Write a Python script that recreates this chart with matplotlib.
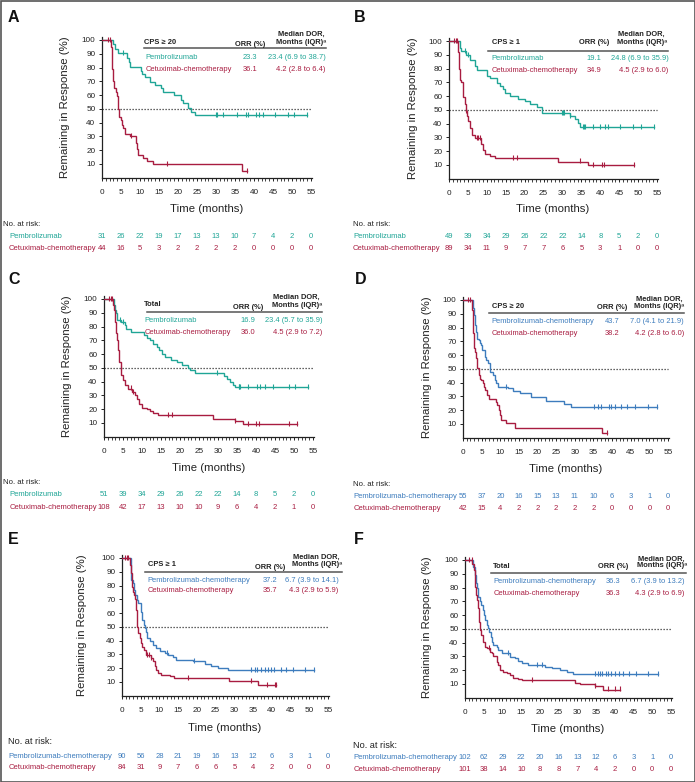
import numpy as np
import matplotlib
matplotlib.use("Agg")
import matplotlib.pyplot as plt
from matplotlib.transforms import blended_transform_factory
from matplotlib.patches import Rectangle
from matplotlib.lines import Line2D

plt.rcParams['font.family'] = ['Liberation Sans', 'DejaVu Sans']

# ---------------- data ----------------
# Panel A : CPS >= 20, pembrolizumab vs cetuximab-chemotherapy
a_pem_t = [0, 2.9, 3.3, 4.2, 6.7, 7.0, 7.4, 10.2, 10.6, 11.2, 12.5, 13.9, 15.6, 16.1, 18.9, 20.7, 21.3, 22.6, 23.3, 24.6]
a_pem_s = [100, 96.8, 93.5, 90.3, 87.1, 83.8, 80.5, 77.5, 75.5, 73.2, 69.7, 67.3, 64.9, 62.5, 60.1, 56.4, 54.0, 50.4, 48.1, 45.6]
a_pem_c = [5.6, 30.1, 30.3, 31.8, 35.4, 38.0, 38.3, 40.6, 41.3, 42.4, 45.4, 48.9, 50.5, 54.0]
a_cet_t = [0, 2.3, 2.5, 2.7, 2.9, 3.2, 3.8, 4.0, 4.2, 4.4, 5.0, 5.3, 5.5, 6.0, 7.3, 9.0, 9.3, 9.6, 10.8, 11.9, 13.4, 36.8]
a_cet_s = [100, 95, 88, 79, 70, 65, 62.5, 59, 50, 44, 42, 38, 36, 32, 30, 25, 21, 16.5, 14, 12.5, 10, 5]
a_cet_c = [1.6, 2.0, 7.5, 17.0, 38.2]

# Panel B : CPS >= 1
b_pem_t = [0, 2.9, 3.2, 4.4, 5.6, 6.9, 7.3, 10.0, 10.8, 12.6, 13.5, 14.4, 14.8, 16.1, 18.3, 20.1, 21.4, 23.2, 24.5, 32.0, 33.3, 34.2, 34.6]
b_pem_s = [100, 95, 92.5, 90, 86, 82, 79, 74.6, 73.4, 69.7, 67.3, 64.9, 62.5, 60, 58.1, 56.4, 54, 52, 48, 45.5, 43.1, 40.7, 37.5]
b_pem_c = [4.2, 5.1, 30.0, 30.2, 30.4, 32.0, 35.5, 35.8, 35.9, 38.1, 39.9, 41.2, 42.1, 45.2, 48.7, 50.7, 54.3]
b_cet_t = [0, 2.4, 2.6, 2.9, 3.3, 3.8, 4.1, 4.4, 4.7, 5.1, 5.6, 6.0, 6.9, 8.5, 9.1, 9.5, 10.8, 12.2, 28.9, 36.8]
b_cet_s = [100, 92, 80, 72, 70, 59, 54, 49, 45.5, 42, 37, 32, 29.5, 25, 21, 18, 16.5, 15.3, 12.5, 10]
b_cet_c = [1.4, 1.8, 2.0, 4.4, 7.3, 7.7, 8.2, 17.0, 17.9, 34.6, 38.1, 40.4, 41.1, 49.0]

# Panel C : Total
c_pem_t = [0, 2.6, 2.9, 3.2, 3.5, 4.6, 5.5, 5.8, 7.0, 10.4, 11.2, 12.1, 12.8, 13.9, 14.6, 15.2, 16.1, 17.5, 19.1, 20.4, 22.2, 22.6, 23.9, 31.6, 32.3, 33.2, 34.0, 34.5]
c_pem_s = [100, 95.6, 92, 90, 85, 83, 81, 78, 76, 73.8, 71.4, 70, 67.7, 65.3, 62.9, 60.4, 58, 55.6, 54.4, 52, 50, 48.3, 46.4, 44, 42.2, 39.8, 37.9, 36.2]
c_pem_c = [4.3, 5.1, 29.8, 35.4, 35.6, 35.8, 38.0, 40.2, 41.0, 42.4, 44.6, 48.6, 50.3, 53.8]
c_cet_t = [0, 2.4, 2.6, 2.9, 3.2, 3.5, 3.8, 4.0, 4.4, 4.6, 5.1, 5.5, 6.4, 7.3, 8.2, 8.6, 9.3, 9.9, 11.2, 12.1, 13.0, 14.3, 28.8, 34.5, 36.7]
c_cet_s = [100, 96, 92, 83.5, 75, 70, 63, 54.4, 49.5, 44.7, 41, 37.4, 35, 32.5, 30, 27.7, 24, 21.1, 20, 18.7, 17.2, 15.5, 13.1, 11.4, 9.5]
c_cet_c = [1.4, 1.8, 2.0, 4.4, 7.0, 7.7, 16.9, 17.8, 34.6, 38.0, 40.0, 40.9, 48.8, 50.7]

# Panel D : CPS >= 20, pembrolizumab-chemotherapy vs cetuximab-chemotherapy
d_pem_t = [0, 2.7, 3.0, 3.3, 3.6, 3.8, 4.2, 4.5, 4.7, 5.1, 5.8, 6.3, 6.7, 7.2, 8.0, 8.5, 8.9, 9.4, 12.1, 13.4, 15.2, 18.2, 22.4, 27.1, 29.1]
d_pem_s = [100, 94, 89, 82, 77, 72, 71, 68.5, 67, 63.7, 58.8, 56.4, 54, 48, 45.5, 42, 39.5, 37, 36, 34, 32.2, 29.8, 26.5, 24.5, 22.5]
d_pem_c = [11.6, 35.2, 36.2, 37.1, 39.1, 39.6, 40.7, 42.3, 44.1, 46.1, 49.5, 52.1]
d_cet_t = [0, 2.4, 2.7, 3.0, 3.3, 3.6, 3.8, 4.2, 4.5, 4.9, 5.4, 5.6, 6.0, 6.5, 6.9, 8.9, 9.2, 9.6, 9.8, 10.3, 11.6, 14.0, 37.3]
d_cet_s = [100, 92.7, 75.8, 65, 62.5, 58, 50.5, 45.5, 43, 42, 39.5, 37, 34.6, 31, 28, 26, 23.7, 20, 16.5, 12.8, 10.4, 7.3, 3.6]
d_cet_c = [1.3, 1.8, 38.7]

# Panel E : CPS >= 1
e_pem_t = [0, 2.3, 2.5, 2.9, 3.2, 3.6, 4.1, 4.4, 5.0, 5.3, 5.9, 6.2, 6.5, 6.8, 7.4, 8.3, 9.2, 10.1, 11.4, 12.3, 13.6, 14.5, 19.0, 22.1, 23.8, 25.6, 28.3]
e_pem_s = [100, 91, 84, 81.6, 77, 73, 69.6, 67, 61, 55, 51.4, 49, 46.6, 41.8, 39.4, 37, 34.5, 32.8, 30.9, 29.7, 28, 26, 24.9, 23.2, 21.7, 20, 18.4]
e_pem_c = [12.0, 19.2, 34.5, 35.4, 36.1, 37.0, 38.1, 39.0, 39.9, 40.7, 42.5, 43.9, 45.6, 48.8, 51.2]
e_cet_t = [0, 2.1, 2.3, 2.7, 2.9, 3.2, 3.6, 3.8, 4.0, 4.1, 4.4, 4.7, 5.2, 5.3, 5.9, 6.5, 7.8, 8.3, 8.7, 9.2, 9.6, 10.5, 12.7, 14.0, 28.7, 36.3]
e_cet_s = [100, 95, 89, 79, 75.6, 73, 70, 62, 55, 50, 45.4, 41.8, 38.2, 35.7, 33.3, 29.7, 27.3, 24.9, 21.3, 18.8, 16.4, 15.2, 14, 12.8, 10.4, 8]
e_cet_c = [0.9, 1.3, 1.6, 6.8, 7.1, 7.8, 17.6, 34.5, 38.8, 40.8, 41.2]

# Panel F : Total
f_pem_t = [0, 2.2, 2.7, 2.9, 3.3, 3.6, 4.0, 4.4, 4.9, 5.1, 5.3, 5.8, 6.2, 6.5, 6.9, 7.1, 7.6, 8.5, 8.9, 9.8, 12.0, 13.3, 14.2, 15.1, 16.9, 21.4, 23.1, 25.4, 27.1, 28.9]
f_pem_s = [100, 95, 89, 83, 79.4, 73.4, 70, 67, 63.7, 60, 56.4, 52.8, 50.4, 48, 44.3, 40.7, 38.3, 37, 34.6, 32.2, 29.8, 28.6, 26.9, 25, 23.7, 22.5, 21.3, 20, 18.9, 17.2]
f_pem_c = [11.6, 19.3, 20.5, 34.7, 35.6, 36.0, 36.7, 37.6, 38.3, 39.1, 40.0, 41.2, 42.3, 43.9, 45.6, 48.9, 51.6]
f_cet_t = [0, 2.0, 2.4, 2.7, 2.9, 3.3, 3.6, 3.8, 4.0, 4.4, 4.9, 5.3, 5.8, 6.7, 7.1, 7.6, 8.5, 8.9, 9.3, 10.2, 11.1, 12.0, 12.9, 14.2, 15.1, 29.4, 30.7, 34.7, 36.9]
f_cet_s = [100, 97, 92.7, 80.6, 74.6, 71, 64.9, 55.2, 49.2, 45.5, 40.7, 37, 35.8, 33.4, 32.2, 30.3, 26.2, 23.7, 20, 18.9, 17.7, 16.5, 14, 13.3, 12.8, 10.9, 10, 8.5, 6]
f_cet_c = [1.2, 1.8, 6.3, 17.8, 34.7, 38.3, 40.0, 41.5]

# Number at risk
risk_times = [0, 5, 10, 15, 20, 25, 30, 35, 40, 45, 50, 55]
a_pem_risk = [31, 26, 22, 19, 17, 13, 13, 10, 7, 4, 2, 0]
a_cet_risk = [44, 16, 5, 3, 2, 2, 2, 2, 0, 0, 0, 0]
b_pem_risk = [49, 39, 34, 29, 26, 22, 22, 14, 8, 5, 2, 0]
b_cet_risk = [89, 34, 11, 9, 7, 7, 6, 5, 3, 1, 0, 0]
c_pem_risk = [51, 39, 34, 29, 26, 22, 22, 14, 8, 5, 2, 0]
c_cet_risk = [108, 42, 17, 13, 10, 10, 9, 6, 4, 2, 1, 0]
d_pem_risk = [55, 37, 20, 16, 15, 13, 11, 10, 6, 3, 1, 0]
d_cet_risk = [42, 15, 4, 2, 2, 2, 2, 2, 0, 0, 0, 0]
e_pem_risk = [90, 56, 28, 21, 19, 16, 13, 12, 6, 3, 1, 0]
e_cet_risk = [84, 31, 9, 7, 6, 6, 5, 4, 2, 0, 0, 0]
f_pem_risk = [102, 62, 29, 22, 20, 16, 13, 12, 6, 3, 1, 0]
f_cet_risk = [101, 38, 14, 10, 8, 8, 7, 4, 2, 0, 0, 0]

# Inset tables
subgroups = ["CPS \u2265 20", "CPS \u2265 1", "Total", "CPS \u2265 20", "CPS \u2265 1", "Total"]
pem_names = ["Pembrolizumab"] * 3 + ["Pembrolizumab-chemotherapy"] * 3
cet_name = "Cetuximab-chemotherapy"
pem_orr = ["23.3", "19.1", "16.9", "43.7", "37.2", "36.3"]
cet_orr = ["36.1", "34.9", "36.0", "38.2", "35.7", "36.3"]
pem_dor = ["23.4 (6.9 to 38.7)", "24.8 (6.9 to 35.9)", "23.4 (5.7 to 35.9)",
           "7.0 (4.1 to 21.9)", "6.7 (3.9 to 14.1)", "6.7 (3.9 to 13.2)"]
cet_dor = ["4.2 (2.8 to 6.4)", "4.5 (2.9 to 6.0)", "4.5 (2.9 to 7.2)",
           "4.2 (2.8 to 6.0)", "4.3 (2.9 to 5.9)", "4.3 (2.9 to 6.9)"]
panel_letters = ["A", "B", "C", "D", "E", "F"]

# ---------------- styling / layout ----------------
TEAL = "#1fa596"
CRIM = "#a81c40"
BLUE = "#3d7cbd"
TXT = "#222222"

W, H = 695, 782
fig = plt.figure(figsize=(W / 100, H / 100), dpi=100)
fig.patch.set_facecolor("white")

def fx(x):
    return x / W

def fy(y):
    return 1 - y / H

layout = [
    dict(ax=(102, 311, 40, 164), letter=(8, 18), ylab_x=65, xlab_y=209.3,
         hdr=(144, 42.3), orr_x=250, orr_hdr_y=44.3, dor_x=301, dor_y=(34, 42.7),
         line=(144, 326, 48.3), rows=(57.3, 69.3), name_x=145.7, dor_right=325.7,
         risk_hdr=(3, 225), risk_lab_x=9, risk_rows=(236, 248.3), risk_fs=5.6),
    dict(ax=(449, 657, 41, 165), letter=(354, 18), ylab_x=413, xlab_y=209.3,
         hdr=(491.7, 42.3), orr_x=594, orr_hdr_y=42.7, dor_x=641.7, dor_y=(34, 42.3),
         line=(488, 667.7, 51), rows=(58.3, 70), name_x=491.7, dor_right=668.3,
         risk_hdr=(353, 225), risk_lab_x=353, risk_rows=(236, 248.3), risk_fs=5.6),
    dict(ax=(104, 313, 299, 423), letter=(8, 279), ylab_x=66.7, xlab_y=468.3,
         hdr=(144.3, 304.3), orr_x=248.3, orr_hdr_y=307.7, dor_x=296.7, dor_y=(297.7, 305.7),
         line=(146.7, 321.7, 312.3), rows=(321, 332.7), name_x=144.3, dor_right=322.7,
         risk_hdr=(3, 482.7), risk_lab_x=9.3, risk_rows=(495, 507.3), risk_fs=5.6),
    dict(ax=(463, 668, 300, 424), letter=(355, 280), ylab_x=426.7, xlab_y=469,
         hdr=(491.7, 306.7), orr_x=611.7, orr_hdr_y=307.7, dor_x=659, dor_y=(299, 306.7),
         line=(489, 684, 313.3), rows=(321.7, 333.3), name_x=491.7, dor_right=684,
         risk_hdr=(353.3, 485), risk_lab_x=353.3, risk_rows=(496, 508.3), risk_fs=5.6),
    dict(ax=(122, 328, 558, 682), letter=(8, 540), ylab_x=81.7, xlab_y=728.3,
         hdr=(147.7, 564), orr_x=270, orr_hdr_y=567.7, dor_x=316.7, dor_y=(557.7, 565),
         line=(145, 342.3, 572.3), rows=(580, 591), name_x=147.7, dor_right=338.3,
         risk_hdr=(8.3, 741.7), risk_lab_x=8.3, risk_rows=(756, 767.3), risk_fs=6.6),
    dict(ax=(465, 671, 560, 684), letter=(354, 539), ylab_x=426.7, xlab_y=729.3,
         hdr=(493.3, 566), orr_x=613.3, orr_hdr_y=566, dor_x=661.7, dor_y=(559, 565.7),
         line=(490.7, 685.7, 573.3), rows=(581.7, 593.3), name_x=493.3, dor_right=684.3,
         risk_hdr=(353.3, 745), risk_lab_x=353.3, risk_rows=(757.3, 769.3), risk_fs=6.6),
]

curves = [
    ((a_pem_t, a_pem_s, a_pem_c, a_pem_risk, TEAL), (a_cet_t, a_cet_s, a_cet_c, a_cet_risk, CRIM)),
    ((b_pem_t, b_pem_s, b_pem_c, b_pem_risk, TEAL), (b_cet_t, b_cet_s, b_cet_c, b_cet_risk, CRIM)),
    ((c_pem_t, c_pem_s, c_pem_c, c_pem_risk, TEAL), (c_cet_t, c_cet_s, c_cet_c, c_cet_risk, CRIM)),
    ((d_pem_t, d_pem_s, d_pem_c, d_pem_risk, BLUE), (d_cet_t, d_cet_s, d_cet_c, d_cet_risk, CRIM)),
    ((e_pem_t, e_pem_s, e_pem_c, e_pem_risk, BLUE), (e_cet_t, e_cet_s, e_cet_c, e_cet_risk, CRIM)),
    ((f_pem_t, f_pem_s, f_pem_c, f_pem_risk, BLUE), (f_cet_t, f_cet_s, f_cet_c, f_cet_risk, CRIM)),
]

XMAX, YMAX = 55.3, 102.5
TABLE_FS = 5.4


def make_axes(x0, x55, y100, y10):
    ppx = (x55 - x0) / 55.0
    ppy = (y10 - y100) / 90.0
    left = x0
    right = x0 + XMAX * ppx
    bottom = y10 + 10 * ppy
    top = y10 - (YMAX - 10) * ppy
    ax = fig.add_axes([fx(left), fy(bottom), (right - left) / W, (bottom - top) / H])
    ax.set_xlim(0, XMAX)
    ax.set_ylim(0, YMAX)
    return ax


def km(ax, t, s, c, color):
    t = np.asarray(t, float)
    s = np.asarray(s, float)
    c = np.asarray(c, float)
    end = max(t[-1], c.max() if c.size else t[-1])
    tt = np.append(t, end)
    ss = np.append(s, s[-1])
    ax.step(tt, ss, where="post", color=color, lw=1.0, solid_joinstyle="miter", zorder=3)
    idx = np.searchsorted(t, c, side="right") - 1
    ax.plot(c, s[idx] + 0.8, ls="none", marker="|", ms=3.6, mew=0.8, color=color, zorder=4)


for i, (L, (pem, cet)) in enumerate(zip(layout, curves)):
    ax = make_axes(*L["ax"])
    for sp in ["top", "right"]:
        ax.spines[sp].set_visible(False)
    for sp in ["left", "bottom"]:
        ax.spines[sp].set_linewidth(0.9)
        ax.spines[sp].set_color("#222222")
    ax.set_yticks(np.arange(10, 101, 10))
    ax.set_xticks(np.arange(0, 56, 5))
    ax.set_xticks(np.arange(0, 56, 1), minor=True)
    ax.tick_params(axis="y", direction="out", length=2.5, width=0.7, pad=2.2,
                   labelsize=5.9, labelcolor=TXT, color="#222222")
    ax.tick_params(axis="x", which="major", direction="out", length=2.5, width=0.7, pad=5.5,
                   labelsize=5.9, labelcolor=TXT, color="#222222")
    ax.tick_params(axis="x", which="minor", direction="out", length=1.8, width=0.6, color="#222222")

    # 50% reference line
    ax.plot([0, 55], [50, 50], color="#333333", lw=0.9, ls=(0, (1.0, 1.4)), zorder=2)

    km(ax, pem[0], pem[1], pem[2], pem[4])
    km(ax, cet[0], cet[1], cet[2], cet[4])

    # axis labels
    x0, x55, y100, y10 = L["ax"]
    ax_l, ax_b, ax_w, ax_h = ax.get_position().bounds
    ax.set_xlabel("Time (months)", fontsize=8.2, color=TXT)
    ax.xaxis.set_label_coords((x0 + x55) / 2 / W, fy(L["xlab_y"]), transform=fig.transFigure)
    ax.xaxis.label.set_va("center")
    ax.set_ylabel("Remaining in Response (%)", fontsize=8.2, color=TXT)
    ax.yaxis.set_label_coords(fx(L["ylab_x"]), ax_b + ax_h / 2, transform=fig.transFigure)
    ax.yaxis.label.set_va("center")

    # panel letter
    fig.text(fx(L["letter"][0]), fy(L["letter"][1]), panel_letters[i], fontsize=11.5,
             fontweight="bold", ha="left", va="center", color="#111111")

    # inset table
    fig.text(fx(L["hdr"][0]), fy(L["hdr"][1]), subgroups[i], fontsize=TABLE_FS,
             fontweight="bold", ha="left", va="center", color=TXT)
    fig.text(fx(L["orr_x"]), fy(L["orr_hdr_y"]), "ORR (%)", fontsize=TABLE_FS,
             fontweight="bold", ha="center", va="center", color=TXT)
    fig.text(fx(L["dor_x"]), fy(L["dor_y"][0]), "Median DOR,", fontsize=TABLE_FS,
             fontweight="bold", ha="center", va="center", color=TXT)
    fig.text(fx(L["dor_x"]), fy(L["dor_y"][1]), "Months (IQR)\u1d43", fontsize=TABLE_FS,
             fontweight="bold", ha="center", va="center", color=TXT)
    lx1, lx2, ly = L["line"]
    fig.add_artist(Line2D([fx(lx1), fx(lx2)], [fy(ly), fy(ly)], transform=fig.transFigure,
                          color="#555555", lw=1.1))
    for (name, orr, dor, col), ry in zip(
            [(pem_names[i], pem_orr[i], pem_dor[i], pem[4]), (cet_name, cet_orr[i], cet_dor[i], cet[4])],
            L["rows"]):
        fig.text(fx(L["name_x"]), fy(ry), name, fontsize=TABLE_FS, ha="left", va="center", color=col)
        fig.text(fx(L["orr_x"]), fy(ry), orr, fontsize=TABLE_FS, ha="center", va="center", color=col)
        fig.text(fx(L["dor_right"]), fy(ry), dor, fontsize=TABLE_FS, ha="right", va="center", color=col)

    # number at risk
    fig.text(fx(L["risk_hdr"][0]), fy(L["risk_hdr"][1]), "No. at risk:", fontsize=L["risk_fs"],
             ha="left", va="center", color=TXT)
    trans = blended_transform_factory(ax.transData, fig.transFigure)
    for (name, risk, col), ry in zip([(pem_names[i], pem[3], pem[4]), (cet_name, cet[3], cet[4])],
                                      L["risk_rows"]):
        fig.text(fx(L["risk_lab_x"]), fy(ry), name, fontsize=5.5, ha="left", va="center", color=col)
        for tt, n in zip(risk_times, risk):
            ax.text(tt, fy(ry), str(n), transform=trans, fontsize=5.5, ha="center", va="center",
                    color=col, clip_on=False)

# outer frame
fig.add_artist(Rectangle((0.5 / W, 0.5 / H), 1 - 1.0 / W, 1 - 1.0 / H, transform=fig.transFigure,
                         fill=False, edgecolor="#555555", lw=1.2))

fig.savefig("out.png", dpi=100)
